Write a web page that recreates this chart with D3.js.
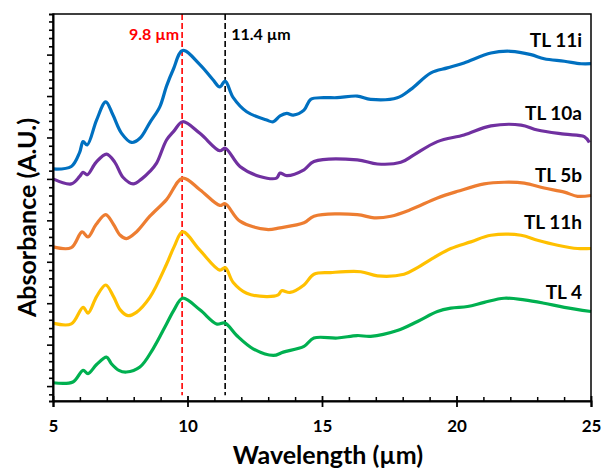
<!DOCTYPE html>
<html lang="en">
<head>
  <meta charset="UTF-8">
  <title>Absorbance spectra</title>
  <style>
    body { margin: 0; background: #fff; }
    text { font-family: Lato, "Open Sans", sans-serif; font-weight: 700; }
  </style>
</head>
<body>
  <svg id="chart" width="608" height="468"></svg>

  <script src="https://d3js.org/d3.v7.min.js"></script>
  <script>
    // wavelengths (µm) and absorbance (A.U., stacked offsets)
    const wlTL11i = [5.00, 5.68, 5.99, 6.12, 6.27, 6.62, 6.96, 7.23, 7.55, 7.92, 8.23, 8.60, 8.97, 9.22, 9.47, 9.82, 10.46, 10.94, 11.20, 11.40, 11.70, 12.20, 12.94, 13.19, 13.44, 13.69, 13.93, 14.33, 14.58, 15.07, 15.56, 16.31, 16.81, 17.80, 18.30, 19.05, 19.66, 20.28, 21.28, 22.02, 22.77, 23.26, 24.01, 24.63, 25.00];
    const abTL11i = [2.62, 2.65, 2.82, 2.95, 2.91, 3.21, 3.43, 3.27, 3.05, 2.94, 2.99, 3.18, 3.37, 3.62, 3.82, 4.05, 3.88, 3.70, 3.61, 3.68, 3.48, 3.31, 3.21, 3.19, 3.26, 3.29, 3.27, 3.33, 3.46, 3.48, 3.48, 3.50, 3.46, 3.48, 3.58, 3.78, 3.84, 3.90, 4.02, 4.04, 4.00, 3.95, 3.92, 3.89, 3.89];

    const wlTL10a = [5.00, 5.68, 5.99, 6.12, 6.27, 6.60, 6.99, 7.30, 7.60, 7.98, 8.30, 8.60, 8.85, 9.22, 9.50, 9.82, 10.46, 11.20, 11.40, 11.95, 12.69, 13.31, 13.44, 13.69, 14.33, 14.70, 16.31, 17.06, 17.93, 18.42, 19.29, 20.28, 21.28, 22.40, 23.01, 24.01, 24.75, 24.94];
    const abTL10a = [2.50, 2.44, 2.53, 2.58, 2.55, 2.70, 2.80, 2.70, 2.52, 2.44, 2.50, 2.59, 2.69, 2.97, 3.08, 3.19, 3.05, 2.84, 2.87, 2.65, 2.53, 2.51, 2.57, 2.54, 2.61, 2.71, 2.73, 2.68, 2.70, 2.79, 2.95, 3.03, 3.14, 3.15, 3.09, 3.04, 3.01, 2.94];

    const wlTL5b = [5.00, 5.68, 6.08, 6.30, 6.60, 6.96, 7.25, 7.50, 7.73, 8.10, 8.60, 9.22, 9.82, 10.46, 11.20, 11.40, 11.95, 12.94, 13.44, 14.33, 14.70, 16.31, 16.94, 17.56, 18.30, 19.29, 20.04, 21.03, 21.77, 22.52, 23.26, 24.01, 24.50, 25.00];
    const abTL5b = [1.68, 1.67, 1.86, 1.80, 1.95, 2.07, 1.95, 1.82, 1.78, 1.86, 2.05, 2.25, 2.51, 2.37, 2.18, 2.20, 1.99, 1.89, 1.91, 1.97, 2.05, 2.07, 2.03, 2.05, 2.13, 2.27, 2.35, 2.44, 2.46, 2.45, 2.39, 2.34, 2.29, 2.30];

    const wlTL11h = [5.00, 5.68, 6.12, 6.30, 6.62, 6.96, 7.25, 7.50, 7.79, 8.10, 8.60, 9.22, 9.50, 9.82, 10.46, 11.20, 11.40, 11.70, 12.20, 12.94, 13.37, 13.50, 13.81, 14.33, 14.70, 15.32, 16.44, 17.06, 18.05, 18.55, 19.05, 19.79, 20.53, 21.28, 22.40, 23.01, 23.76, 24.50, 25.00];
    const abTL11h = [0.76, 0.75, 0.95, 0.88, 1.08, 1.22, 1.08, 0.92, 0.85, 0.89, 1.07, 1.47, 1.68, 1.86, 1.64, 1.40, 1.43, 1.25, 1.12, 1.08, 1.10, 1.15, 1.13, 1.22, 1.35, 1.37, 1.38, 1.33, 1.35, 1.43, 1.53, 1.66, 1.74, 1.82, 1.82, 1.76, 1.70, 1.66, 1.66];

    const wlTL4 = [5.00, 5.74, 6.12, 6.30, 6.62, 6.99, 7.17, 7.45, 7.73, 8.23, 8.72, 9.22, 9.50, 9.82, 10.46, 11.08, 11.39, 11.83, 12.44, 13.19, 13.56, 14.33, 14.70, 15.57, 16.31, 16.81, 17.80, 18.55, 19.29, 19.79, 20.41, 21.03, 21.77, 22.52, 23.26, 24.01, 25.00];
    const abTL4 = [0.04, 0.05, 0.19, 0.15, 0.26, 0.35, 0.27, 0.19, 0.17, 0.23, 0.45, 0.75, 0.92, 1.06, 0.92, 0.75, 0.76, 0.61, 0.45, 0.37, 0.41, 0.48, 0.58, 0.58, 0.61, 0.60, 0.67, 0.78, 0.90, 0.94, 0.96, 1.01, 1.06, 1.04, 1.00, 0.95, 0.90];

    const seriesNames = ['TL 11i', 'TL 10a', 'TL 5b', 'TL 11h', 'TL 4'];
    const seriesWl = [wlTL11i, wlTL10a, wlTL5b, wlTL11h, wlTL4];
    const seriesAb = [abTL11i, abTL10a, abTL5b, abTL11h, abTL4];

    const markerWl = [9.8, 11.4];
    const markerLabels = ['9.8 µm', '11.4 µm'];

    const xTickValues = [5, 10, 15, 20, 25];

    // layout
    const colors = ['#0070C0', '#7030A0', '#ED7D31', '#FFC000', '#00B050'];
    const markerColors = ['#FF0000', '#000000'];
    const labelBaseline = [47, 120, 182, 229, 299];
    const margin = { top: 14, right: 17, bottom: 67, left: 53 };
    const width = 608, height = 468;

    const svg = d3.select('#chart');

    const x = d3.scaleLinear()
      .domain([5, 25])
      .range([margin.left, width - margin.right]);

    const y = d3.scaleLinear()
      .domain([-0.18, 4.49])
      .range([height - margin.bottom, margin.top]);

    const plotBottom = height - margin.bottom;

    // marker lines
    markerWl.forEach((w, i) => {
      svg.append('line')
        .attr('x1', x(w)).attr('x2', x(w))
        .attr('y1', y(4.49)).attr('y2', y(-0.11))
        .attr('stroke', markerColors[i])
        .attr('stroke-width', 1.6)
        .attr('stroke-dasharray', '6,3');
    });

    svg.append('text')
      .attr('x', x(markerWl[0]) - 3)
      .attr('y', 40)
      .attr('text-anchor', 'end')
      .attr('font-size', 16)
      .attr('fill', markerColors[0])
      .text(markerLabels[0]);

    svg.append('text')
      .attr('x', x(markerWl[1]) + 6)
      .attr('y', 40)
      .attr('text-anchor', 'start')
      .attr('font-size', 16)
      .attr('fill', markerColors[1])
      .text(markerLabels[1]);

    // spectra
    const line = d3.line()
      .x(d => x(d[0]))
      .y(d => y(d[1]))
      .curve(d3.curveCatmullRom.alpha(0.5));

    seriesNames.forEach((name, i) => {
      const pts = seriesWl[i].map((w, j) => [w, seriesAb[i][j]]);
      svg.append('path')
        .datum(pts)
        .attr('fill', 'none')
        .attr('stroke', colors[i])
        .attr('stroke-width', 3.2)
        .attr('stroke-linejoin', 'round')
        .attr('d', line);

      svg.append('text')
        .attr('x', 582)
        .attr('y', labelBaseline[i])
        .attr('text-anchor', 'end')
        .attr('font-size', 19)
        .attr('fill', '#000')
        .text(name);
    });

    // frame
    svg.append('rect')
      .attr('x', margin.left)
      .attr('y', margin.top)
      .attr('width', width - margin.left - margin.right)
      .attr('height', plotBottom - margin.top)
      .attr('fill', 'none')
      .attr('stroke', '#000')
      .attr('stroke-width', 1.5);

    // x axis
    const xAxisMinor = d3.axisTop(x)
      .tickValues(d3.range(5, 26, 1).filter(v => v % 5 !== 0))
      .tickSize(4)
      .tickFormat('');
    svg.append('g')
      .attr('transform', `translate(0,${plotBottom})`)
      .call(xAxisMinor)
      .call(g => g.select('.domain').remove())
      .selectAll('line').attr('stroke-width', 1.5);

    const xAxis = d3.axisBottom(x)
      .tickValues(xTickValues)
      .tickSize(6)
      .tickPadding(13)
      .tickFormat(d3.format('d'));
    const gx = svg.append('g')
      .attr('transform', `translate(0,${plotBottom})`)
      .call(xAxis);
    gx.select('.domain').attr('stroke-width', 2);
    gx.selectAll('.tick line').attr('y1', -5).attr('stroke-width', 1.8);
    gx.selectAll('.tick text')
      .attr('font-size', 17)
      .attr('font-family', 'Lato, sans-serif')
      .attr('font-weight', 700)
      .attr('fill', '#000');

    // y axis (no labels)
    const yTicks = d3.range(46).map(k => +(-0.1 + k * 0.1).toFixed(2));
    const yAxis = d3.axisLeft(y)
      .tickValues(yTicks)
      .tickSize(4)
      .tickFormat('');
    const gy = svg.append('g')
      .attr('transform', `translate(${margin.left},0)`)
      .call(yAxis);
    gy.select('.domain').attr('stroke-width', 2);
    gy.selectAll('.tick line')
      .attr('stroke-width', 1.6)
      .attr('x2', d => (Math.round(d * 10) % 5 === 0 ? -6 : -4));

    // axis titles
    svg.append('text')
      .attr('x', (x(5) + x(25)) / 2 + 6)
      .attr('y', 464)
      .attr('text-anchor', 'middle')
      .attr('font-size', 25)
      .text('Wavelength (µm)');

    svg.append('text')
      .attr('transform', `translate(36,${(margin.top + plotBottom) / 2 + 10}) rotate(-90)`)
      .attr('text-anchor', 'middle')
      .attr('font-size', 25)
      .text('Absorbance (A.U.)');
  </script>
</body>
</html>
